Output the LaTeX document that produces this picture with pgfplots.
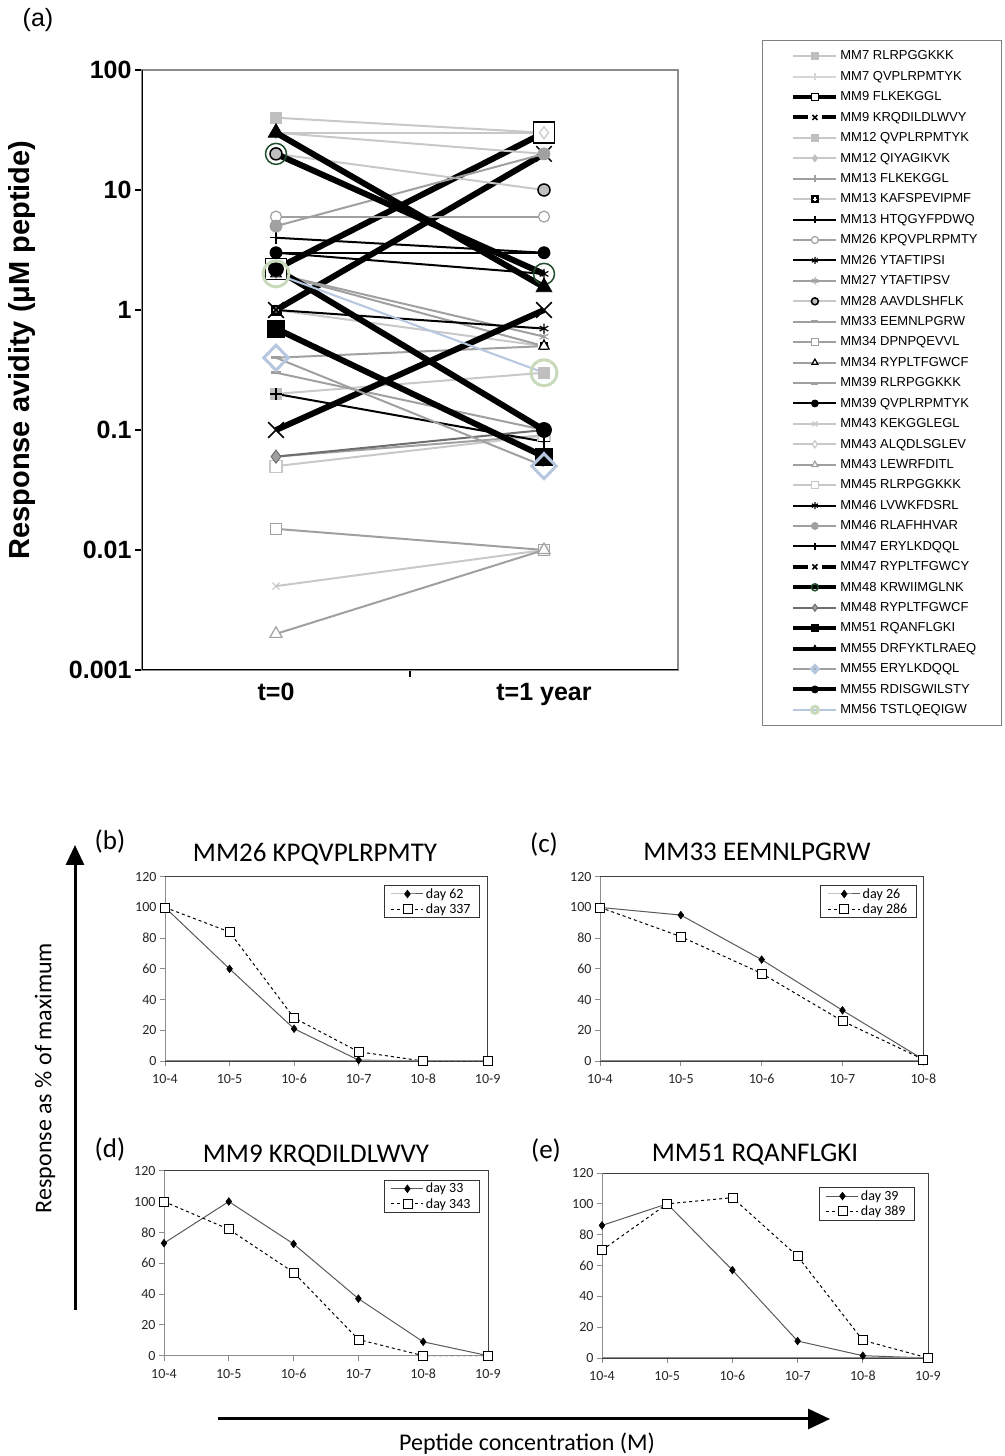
\documentclass[border=0pt]{standalone}
\usepackage{fontspec}
\setmainfont{Liberation Sans}
\newfontfamily\carl{Carlito}
\usepackage{pgfplots}
\pgfplotsset{compat=1.18}
\usetikzlibrary{arrows.meta}

\definecolor{L1}{HTML}{C8C8C8}
\definecolor{L2}{HTML}{D6D6D6}
\definecolor{G1}{HTML}{A0A0A0}
\definecolor{G2}{HTML}{BFBFBF}
\definecolor{D1}{HTML}{6E6E6E}
\definecolor{BL}{HTML}{B7C7DF}
\definecolor{LG}{HTML}{C8DABA}
\definecolor{DG}{HTML}{1F4D2C}

\pgfdeclareplotmark{sqplus}{%
  \pgfpathrectangle{\pgfpoint{-\pgfplotmarksize}{-\pgfplotmarksize}}{\pgfpoint{2\pgfplotmarksize}{2\pgfplotmarksize}}%
  \pgfusepathqfillstroke
  \pgfsetstrokecolor{white}%
  \pgfsetlinewidth{0.35\pgfplotmarksize}%
  \pgfpathmoveto{\pgfpoint{-0.6\pgfplotmarksize}{0pt}}\pgfpathlineto{\pgfpoint{0.6\pgfplotmarksize}{0pt}}%
  \pgfpathmoveto{\pgfpoint{0pt}{-0.6\pgfplotmarksize}}\pgfpathlineto{\pgfpoint{0pt}{0.6\pgfplotmarksize}}%
  \pgfusepathqstroke
}

\pgfplotsset{
  smallp/.style={
    scale only axis, anchor=south west, clip=false,
    ymin=0, ymax=120, ytick={0,20,...,120},
    xtick pos=bottom, ytick pos=left,
    tick align=outside, major tick length=5pt,
    tick style={color=black!45, line width=0.8pt},
    axis line style={draw=black!75, line width=0.8pt},
    ticklabel style={font=\carl\fontsize{14}{14}\selectfont, text=black!85},
    xticklabel style={yshift=-5pt, text height=9pt, text depth=1pt},
    /pgf/number format/assume math mode=true,
    legend style={font=\carl\fontsize{14}{14}\selectfont, draw=black!80, line width=0.8pt,
      inner xsep=7pt, inner ysep=1pt, row sep=0pt, cells={anchor=west}, anchor=north east},
    legend image code/.code={\draw[mark repeat=2,mark phase=2,##1] plot coordinates {(0pt,0pt)(16pt,0pt)(32pt,0pt)};},
  },
  sA/.style={color=black!65, line width=1pt, mark=diamond*, mark size=3.8pt,
    mark options={solid, fill=black, draw=black, line width=0.6pt}},
  sB/.style={color=black, line width=1pt, dash pattern=on 3pt off 3pt, mark=square*, mark size=4.5pt,
    mark options={solid, fill=white, draw=black, line width=0.8pt}},
  thk/.style={legend image code/.code={\path[draw=none,fill=none] (-9pt,0pt) -- (0pt,0pt);
      \draw[##1, line width=4pt, mark=none] (0pt,0pt) -- (43pt,0pt);
      \draw[##1] plot coordinates {(21.5pt,0pt)};}},
  thkx/.style={legend image code/.code={\path[draw=none,fill=none] (-9pt,0pt) -- (0pt,0pt);
      \draw[##1, line width=4pt, mark=none] (0pt,0pt) -- (43pt,0pt);
      \fill[white] (17.5pt,-3.6pt) rectangle (25.5pt,3.6pt);
      \draw[##1] plot coordinates {(21.5pt,0pt)};}},
}

\begin{document}
\begin{tikzpicture}[x=1pt,y=1pt]
\path[use as bounding box] (0,0) rectangle (1004,1456);

% ---------------- panel (a) ----------------
\begin{axis}[
  at={(142pt,786pt)}, anchor=south west, scale only axis,
  width=536pt, height=600pt,
  xmin=0, xmax=2, ymode=log, ymin=0.001, ymax=100,
  xtick={1}, xticklabels={},
  extra x ticks={0.5,1.5}, extra x tick labels={t=0,t=1 year},
  extra x tick style={major tick length=0pt},
  ytick={0.001,0.01,0.1,1,10,100},
  yticklabels={0.001,0.01,0.1,1,10,100},
  yminorticks=false,
  xtick pos=bottom, ytick pos=left,
  tick align=outside, major tick length=7pt,
  tick style={black, line width=1.2pt},
  axis line style={draw=black!45, line width=1.5pt},
  ticklabel style={font=\fontsize{25}{25}\selectfont\bfseries},
  xticklabel style={yshift=-10pt},
  legend style={at={(1.15672,1.05)}, anchor=north west, draw=black!50, line width=0.8pt,
    font=\fontsize{13}{13}\selectfont, inner xsep=22pt, inner ysep=8.5pt, row sep=5.85pt,
    cells={anchor=west}},
  legend image code/.code={\path[draw=none,fill=none] (-9pt,0pt) -- (0pt,0pt); \draw[mark repeat=2,mark phase=2,#1] plot coordinates {(0pt,0pt)(21.5pt,0pt)(43pt,0pt)};},
  legend image post style={mark size=3.5pt},
]
\addplot[color=L1, line width=2pt, mark=square*, mark size=5.5pt, mark options={fill=G2, draw=G2, line width=0.8pt}] coordinates {(0.5,40)(1.5,30)};
\addlegendentry{MM7 RLRPGGKKK}
\addplot[color=L2, line width=2pt, mark=+, mark size=4.5pt, mark options={draw=L2, line width=1.2pt}] coordinates {(0.5,30)(1.5,30)};
\addlegendentry{MM7 QVPLRPMTYK}
\addplot[thk, color=black, line width=6pt, mark=square*, mark size=10.5pt, mark options={fill=white, draw=black, line width=1.5pt}] coordinates {(0.5,2.2)(1.5,30)};
\addlegendentry{MM9 FLKEKGGL}
\addplot[thkx, color=black, line width=6pt, mark=x, mark size=11pt, mark options={draw=black, line width=1.5pt}] coordinates {(0.5,1)(1.5,20)};
\addlegendentry{MM9 KRQDILDLWVY}
\addplot[color=L1, line width=2pt, mark=square*, mark size=5.5pt, mark options={fill=G2, draw=G2, line width=0.8pt}] coordinates {(0.5,0.2)(1.5,0.3)};
\addlegendentry{MM12 QVPLRPMTYK}
\addplot[color=L1, line width=2pt, mark=diamond*, mark size=5.5pt, mark options={fill=G2, draw=G2, line width=0.8pt}] coordinates {(0.5,30)(1.5,20)};
\addlegendentry{MM12 QIYAGIKVK}
\addplot[color=G1, line width=2pt, mark=+, mark size=4.5pt, mark options={draw=G1, line width=1.2pt}] coordinates {(0.5,0.06)(1.5,0.09)};
\addlegendentry{MM13 FLKEKGGL}
\addplot[color=L1, line width=2pt, mark=sqplus, mark size=5pt, mark options={fill=black, draw=black, line width=0.8pt}] coordinates {(0.5,1)(1.5,0.5)};
\addlegendentry{MM13 KAFSPEVIPMF}
\addplot[color=black, line width=2pt, mark=+, mark size=6pt, mark options={draw=black, line width=1.5pt}] coordinates {(0.5,4)(1.5,3)};
\addlegendentry{MM13 HTQGYFPDWQ}
\addplot[color=G1, line width=2pt, mark=*, mark size=5.5pt, mark options={fill=white, draw=G1, line width=1.2pt}] coordinates {(0.5,6)(1.5,6)};
\addlegendentry{MM26 KPQVPLRPMTY}
\addplot[color=black, line width=2pt, mark=asterisk, mark size=5pt, mark options={draw=black, line width=1.2pt}] coordinates {(0.5,3)(1.5,2)};
\addlegendentry{MM26 YTAFTIPSI}
\addplot[color=G1, line width=2pt, mark=asterisk, mark size=5pt, mark options={draw=G1, line width=1.2pt}] coordinates {(0.5,2)(1.5,0.6)};
\addlegendentry{MM27 YTAFTIPSV}
\addplot[color=L1, line width=2pt, mark=*, mark size=6pt, mark options={fill=G2, draw=black, line width=1.5pt}] coordinates {(0.5,20)(1.5,10)};
\addlegendentry{MM28 AAVDLSHFLK}
\addplot[color=G1, line width=2pt, mark=-, mark size=5pt, mark options={draw=G1, line width=3pt}] coordinates {(0.5,0.4)(1.5,0.5)};
\addlegendentry{MM33 EEMNLPGRW}
\addplot[color=G1, line width=2pt, mark=square*, mark size=5.5pt, mark options={fill=white, draw=G1, line width=1.2pt}] coordinates {(0.5,0.015)(1.5,0.01)};
\addlegendentry{MM34 DPNPQEVVL}
\addplot[color=G1, line width=2pt, mark=triangle*, mark size=6pt, mark options={fill=white, draw=black, line width=1.2pt}] coordinates {(0.5,2)(1.5,0.5)};
\addlegendentry{MM34 RYPLTFGWCF}
\addplot[color=G1, line width=2pt, mark=-, mark size=5pt, mark options={draw=G1, line width=3pt}] coordinates {(0.5,0.3)(1.5,0.1)};
\addlegendentry{MM39 RLRPGGKKK}
\addplot[color=black, line width=2pt, mark=*, mark size=6pt, mark options={fill=black, draw=black, line width=0.8pt}] coordinates {(0.5,3)(1.5,3)};
\addlegendentry{MM39 QVPLRPMTYK}
\addplot[color=L1, line width=2pt, mark=x, mark size=5pt, mark options={draw=L1, line width=1.2pt}] coordinates {(0.5,0.005)(1.5,0.01)};
\addlegendentry{MM43 KEKGGLEGL}
\addplot[color=L1, line width=2pt, mark=diamond*, mark size=6pt, mark options={fill=white, draw=L1, line width=1.2pt}] coordinates {(0.5,30)(1.5,30)};
\addlegendentry{MM43 ALQDLSGLEV}
\addplot[color=G1, line width=2pt, mark=triangle*, mark size=7pt, mark options={fill=white, draw=G1, line width=1.2pt}] coordinates {(0.5,0.002)(1.5,0.01)};
\addlegendentry{MM43 LEWRFDITL}
\addplot[color=L1, line width=2pt, mark=square*, mark size=6pt, mark options={fill=white, draw=L1, line width=1.2pt}] coordinates {(0.5,0.05)(1.5,0.09)};
\addlegendentry{MM45 RLRPGGKKK}
\addplot[color=black, line width=2pt, mark=asterisk, mark size=5pt, mark options={draw=black, line width=1.2pt}] coordinates {(0.5,1)(1.5,0.7)};
\addlegendentry{MM46 LVWKFDSRL}
\addplot[color=G1, line width=2pt, mark=*, mark size=6pt, mark options={fill=G1, draw=G1, line width=0.8pt}] coordinates {(0.5,5)(1.5,20)};
\addlegendentry{MM46 RLAFHHVAR}
\addplot[color=black, line width=2pt, mark=+, mark size=6pt, mark options={draw=black, line width=1.5pt}] coordinates {(0.5,0.2)(1.5,0.08)};
\addlegendentry{MM47 ERYLKDQQL}
\addplot[thkx, color=black, line width=6pt, mark=x, mark size=11pt, mark options={draw=black, line width=1.5pt}] coordinates {(0.5,0.1)(1.5,1)};
\addlegendentry{MM47 RYPLTFGWCY}
\addplot[thk, color=black, line width=6pt, mark=o, mark size=10.5pt, mark options={draw=DG, line width=1.5pt}] coordinates {(0.5,20)(1.5,2)};
\addlegendentry{MM48 KRWIIMGLNK}
\addplot[color=D1, line width=2pt, mark=diamond*, mark size=6.5pt, mark options={fill=G1, draw=D1, line width=1pt}] coordinates {(0.5,0.06)(1.5,0.1)};
\addlegendentry{MM48 RYPLTFGWCF}
\addplot[thk, color=black, line width=6pt, mark=square*, mark size=8.5pt, mark options={fill=black, draw=black, line width=0.8pt}] coordinates {(0.5,0.7)(1.5,0.06)};
\addlegendentry{MM51 RQANFLGKI}
\addplot[thk, color=black, line width=6pt, mark=triangle*, mark size=9pt, mark options={fill=black, draw=black, line width=0.8pt}] coordinates {(0.5,30)(1.5,1.55)};
\addlegendentry{MM55 DRFYKTLRAEQ}
\addplot[color=G1, line width=2pt, mark=diamond, mark size=12.5pt, mark options={draw=BL, line width=3pt, xscale=1.3}] coordinates {(0.5,0.4)(1.5,0.05)};
\addlegendentry{MM55 ERYLKDQQL}
\addplot[thk, color=black, line width=6pt, mark=*, mark size=7.5pt, mark options={fill=black, draw=black, line width=0.8pt}] coordinates {(0.5,2.2)(1.5,0.1)};
\addlegendentry{MM55 RDISGWILSTY}
\addplot[color=BL, line width=2pt, mark=o, mark size=13pt, mark options={draw=LG, line width=3pt}] coordinates {(0.5,2)(1.5,0.3)};
\addlegendentry{MM56 TSTLQEQIGW}
\draw[black, line width=1.5pt] (rel axis cs:0,1) -- (rel axis cs:0,0) -- (rel axis cs:1,0);
\end{axis}

\node[font=\fontsize{25}{25}\selectfont] at (38,1436) {(a)};
\node[rotate=90, font=\fontsize{29}{29}\selectfont\bfseries] at (22,1106) {Response avidity (μM peptide)};

% ---------------- panel (b) ----------------
\begin{axis}[smallp, at={(165pt,395pt)}, width=322.7pt, height=184.3pt,
  xmin=0, xmax=5, xtick={0,...,5}, xticklabels={10-4,10-5,10-6,10-7,10-8,10-9},
  legend style={at={(0.976,0.955)}}]
\addplot[sA] coordinates {(0,100)(1,60)(2,21)(3,0.6)(4,0)(5,0)};
\addlegendentry{day 62}
\addplot[sB] coordinates {(0,100)(1,84)(2,28)(3,6)(4,0)(5,0)};
\addlegendentry{day 337}
\draw[black!45, line width=1pt] (rel axis cs:0,1) -- (rel axis cs:0,0) -- (rel axis cs:1,0);
\end{axis}

% ---------------- panel (c) ----------------
\begin{axis}[smallp, at={(600pt,395pt)}, width=323.3pt, height=184.3pt,
  xmin=0, xmax=4, xtick={0,...,4}, xticklabels={10-4,10-5,10-6,10-7,10-8},
  legend style={at={(0.9796,0.955)}}]
\addplot[sA] coordinates {(0,100)(1,95)(2,66)(3,33)(4,1)};
\addlegendentry{day 26}
\addplot[sB] coordinates {(0,100)(1,81)(2,57)(3,26)(4,1)};
\addlegendentry{day 286}
\draw[black!45, line width=1pt] (rel axis cs:0,1) -- (rel axis cs:0,0) -- (rel axis cs:1,0);
\end{axis}

% ---------------- panel (d) ----------------
\begin{axis}[smallp, at={(164pt,100.3pt)}, width=324pt, height=185pt,
  xmin=0, xmax=5, xtick={0,...,5}, xticklabels={10-4,10-5,10-6,10-7,10-8,10-9},
  legend style={at={(0.975,0.951)}}]
\addplot[sA] coordinates {(0,73)(1,100)(2,72.5)(3,37)(4,9)(5,0)};
\addlegendentry{day 33}
\addplot[sB] coordinates {(0,100)(1,82)(2,54)(3,10.5)(4,0)(5,0)};
\addlegendentry{day 343}
\draw[black!45, line width=1pt] (rel axis cs:0,1) -- (rel axis cs:0,0) -- (rel axis cs:1,0);
\end{axis}

% ---------------- panel (e) ----------------
\begin{axis}[smallp, at={(602pt,98pt)}, width=326pt, height=185pt,
  xmin=0, xmax=5, xtick={0,...,5}, xticklabels={10-4,10-5,10-6,10-7,10-8,10-9},
  legend style={at={(0.96,0.924)}}]
\addplot[sA] coordinates {(0,86)(1,100)(2,57)(3,11)(4,1.5)(5,0)};
\addlegendentry{day 39}
\addplot[sB] coordinates {(0,70)(1,100)(2,104)(3,66)(4,11.5)(5,0)};
\addlegendentry{day 389}
\draw[black!45, line width=1pt] (rel axis cs:0,1) -- (rel axis cs:0,0) -- (rel axis cs:1,0);
\end{axis}

% titles and panel letters
\begin{scope}[every node/.style={font=\carl\fontsize{27}{27}\selectfont}]
\node at (315,602) {MM26 KPQVPLRPMTY};
\node at (757,604) {MM33 EEMNLPGRW};
\node at (316,300) {MM9 KRQDILDLWVY};
\node at (755,301) {MM51 RQANFLGKI};
\node at (110,614) {(b)};
\node at (544,611) {(c)};
\node at (110,306) {(d)};
\node at (546,305) {(e)};
\end{scope}

% arrows and common labels
\draw[line width=3pt, -{Triangle[length=22pt,width=20pt]}] (218,37) -- (830,37);
\draw[line width=3pt, -{Triangle[length=20pt,width=18pt]}] (75,146) -- (75,611);
\node[font=\carl\fontsize{24}{24}\selectfont] at (527,12) {Peptide concentration (M)};
\node[rotate=90, font=\carl\fontsize{24}{24}\selectfont] at (45,378) {Response as \% of maximum};
\end{tikzpicture}
\end{document}
